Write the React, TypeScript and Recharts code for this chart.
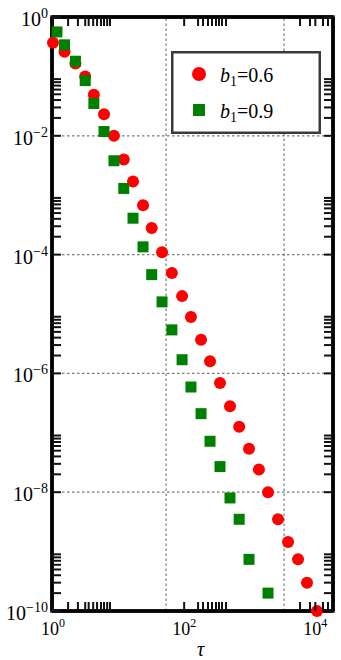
import React from 'react'
import { ScatterChart, Scatter, XAxis, YAxis, ReferenceLine, ReferenceArea, Legend } from 'recharts'

// tau values and probabilities
const TAU_06 = [1, 1.5, 2.2, 3.1, 4.2, 6, 8.5, 12, 16.6, 23.6, 32, 46, 65, 93, 127, 181, 248, 352, 500, 690, 975, 1380, 1900, 2700, 3840, 5450, 7470, 10600]
const P_06 = [0.37, 0.26, 0.165, 0.1, 0.049, 0.023, 0.01, 0.004, 0.0017, 6.8e-4, 2.8e-4, 1.1e-4, 4.9e-5, 2.0e-5, 8.9e-6, 3.7e-6, 1.6e-6, 6.9e-7, 2.8e-7, 1.26e-7, 5.4e-8, 2.4e-8, 1.0e-8, 3.5e-9, 1.45e-9, 7.4e-10, 3.0e-10, 1.0e-10]
const TAU_09 = [1.15, 1.5, 2.2, 3.1, 4.2, 6, 8.5, 12, 16.6, 23.6, 32, 46, 65, 93, 127, 181, 248, 352, 500, 690, 975, 1900]
const P_09 = [0.56, 0.34, 0.18, 0.085, 0.035, 0.0118, 0.0038, 0.0013, 4.1e-4, 1.35e-4, 4.6e-5, 1.6e-5, 5.4e-6, 1.7e-6, 5.9e-7, 2.1e-7, 7.2e-8, 2.7e-8, 8.0e-9, 3.5e-9, 7.4e-10, 2.0e-10]

const SERIES_NAMES = ['0.6', '0.9']

const X_MAJOR = [1, 100, 10000]
const X_MINOR = [1.7, 2.4, 3.1, 3.5, 4.1, 4.7, 5.4, 6, 6.7, 7.4, 163, 194, 231, 266, 306, 340, 378, 435, 5850, 8300, 13100, 15600]
const Y_MAJOR = [1, 1e-2, 1e-4, 1e-6, 1e-8, 1e-10]
const Y_MINOR_DECADES = [1e-2, 1e-4, 1e-6, 1e-8, 1e-10]
const MINOR_MULT = [2, 3, 4, 5, 6, 7, 8, 9]
const GRID_X = [53, 3340]
const GRID_Y = [1e-2, 1e-4, 1e-6, 1e-8]

const X_DOMAIN = [0.966, 18600]
const Y_DOMAIN = [1e-10, 1]

const RED = '#ff0000'
const GREEN = '#008000'
const SERIF = '"Liberation Serif", "Times New Roman", "DejaVu Serif", serif'

const redData = TAU_06.map((t, i) => ({ tau: t, p: P_06[i] }))
const greenData = TAU_09.map((t, i) => ({ tau: t, p: P_09[i] }))
const xTicks = [...X_MAJOR, ...X_MINOR].sort((a, b) => a - b)
const yTicks = [...Y_MAJOR, ...Y_MINOR_DECADES.flatMap(d => MINOR_MULT.map(k => k * d))].sort((a, b) => a - b)

const isMajor = (v: number) => X_MAJOR.includes(v) || Y_MAJOR.includes(v)
const expText = (v: number) => {
  const e = Math.round(Math.log10(v))
  return e < 0 ? `\u2212${-e}` : `${e}`
}

function BottomTick({ x, y, payload }: any) {
  const major = isMajor(payload.value)
  return (
    <g>
      <line x1={x} x2={x} y1={y} y2={y - 9} stroke="#111" strokeWidth={2} />
      {major && (
        <text x={x} y={y + 24} textAnchor="middle" style={{ fontFamily: SERIF }} fontSize={18} fill="black">
          <tspan>10</tspan>
          <tspan dy={-8} fontSize={12}>{expText(payload.value)}</tspan>
        </text>
      )}
    </g>
  )
}

function TopTick({ x, y }: any) {
  return <line x1={x} x2={x} y1={y} y2={y + 9} stroke="#111" strokeWidth={2} />
}

function LeftTick({ x, y, payload }: any) {
  const major = isMajor(payload.value)
  return (
    <g>
      <line x1={x} x2={x + 9} y1={y} y2={y} stroke="#111" strokeWidth={2} />
      {major && (
        <text x={x - 4} y={y + 9} textAnchor="end" style={{ fontFamily: SERIF }} fontSize={20} fill="black">
          <tspan>10</tspan>
          <tspan dy={-8} fontSize={14}>{expText(payload.value)}</tspan>
        </text>
      )}
    </g>
  )
}

function RightTick({ x, y }: any) {
  return <line x1={x} x2={x - 9} y1={y} y2={y} stroke="#111" strokeWidth={2} />
}

const renderCircle = (props: any) => <circle cx={props.cx} cy={props.cy} r={6} fill={RED} />
const renderSquare = (props: any) => <rect x={props.cx - 5.5} y={props.cy - 5.5} width={11} height={11} fill={GREEN} />
const renderNothing = () => <g />

function LegendBox({ payload }: any) {
  const items = (payload || []).filter((it: any) => SERIES_NAMES.includes(it.value))
  return (
    <svg width={150} height={83} style={{ display: 'block' }}>
      <rect x={1.25} y={1.25} width={147.5} height={80.5} fill="#fff" stroke="#3a3a3a" strokeWidth={2.5} />
      {items.map((it: any, i: number) => {
        const cy = 23 + i * 36
        return (
          <g key={it.value}>
            {i === 0
              ? <circle cx={28} cy={cy} r={7} fill={RED} />
              : <rect x={22} y={cy - 6} width={12} height={12} fill={GREEN} />}
            <text x={49} y={cy + 8} style={{ fontFamily: SERIF }} fontSize={20} fill="black">
              <tspan fontStyle="italic">b</tspan>
              <tspan fontSize={14} dy={4}>1</tspan>
              <tspan dy={-4}>={it.value}</tspan>
            </text>
          </g>
        )
      })}
    </svg>
  )
}

export default function App() {
  return (
    <div style={{ position: 'absolute', left: 0, top: 0, width: 341, height: 660, background: '#fff' }}>
      <ScatterChart width={341} height={660} margin={{ top: 16, right: 7, left: 0, bottom: 0 }}>
        <XAxis
          xAxisId="b" dataKey="tau" type="number" scale="log" domain={X_DOMAIN} ticks={xTicks} interval={0}
          orientation="bottom" height={49} tickSize={0} tickMargin={0} tickLine={false}
          axisLine={{ stroke: 'black', strokeWidth: 3.5 }}
          tick={(p: any) => <BottomTick {...p} />}
          label={{
            content: (p: any) => (
              <text x={p.viewBox.x + p.viewBox.width / 2 + 8} y={p.viewBox.y + p.viewBox.height - 4}
                textAnchor="middle" style={{ fontFamily: SERIF }} fontStyle="italic" fontSize={20} fill="black">τ</text>
            ),
          }}
        />
        <XAxis
          xAxisId="t" dataKey="tau" type="number" scale="log" domain={X_DOMAIN} allowDataOverflow ticks={xTicks} interval={0}
          orientation="top" height={1} tickSize={0} tickMargin={0} tickLine={false}
          axisLine={{ stroke: 'black', strokeWidth: 3.5 }}
          tick={(p: any) => <TopTick {...p} />}
        />
        <YAxis
          yAxisId="l" dataKey="p" type="number" scale="log" domain={Y_DOMAIN} ticks={yTicks} interval={0}
          orientation="left" width={52} tickSize={0} tickMargin={0} tickLine={false}
          axisLine={{ stroke: 'black', strokeWidth: 3.5 }}
          tick={(p: any) => <LeftTick {...p} />}
        />
        <YAxis
          yAxisId="r" dataKey="p" type="number" scale="log" domain={Y_DOMAIN} allowDataOverflow ticks={yTicks} interval={0}
          orientation="right" width={1} tickSize={0} tickMargin={0} tickLine={false}
          axisLine={{ stroke: 'black', strokeWidth: 3.5 }}
          tick={(p: any) => <RightTick {...p} />}
        />
        {GRID_Y.map(v => (
          <ReferenceLine key={'gy' + v} xAxisId="b" yAxisId="l" y={v} stroke="#7a7a7a" strokeWidth={1.2} strokeDasharray="2.5 2.5" />
        ))}
        {GRID_X.map(v => (
          <ReferenceLine key={'gx' + v} xAxisId="b" yAxisId="l" x={v} stroke="#7a7a7a" strokeWidth={1.2} strokeDasharray="2.5 2.5" />
        ))}
        {/* plot frame */}
        <ReferenceArea xAxisId="b" yAxisId="l" x1={X_DOMAIN[0]} x2={X_DOMAIN[1]} y1={Y_DOMAIN[0]} y2={Y_DOMAIN[1]}
          fill="none" fillOpacity={0} stroke="black" strokeWidth={3.5} strokeOpacity={0.9} ifOverflow="visible" />
        <Legend
          layout="vertical" align="center" verticalAlign="middle"
          wrapperStyle={{ left: 171, top: 51, width: 150, height: 83 }}
          content={(p: any) => <LegendBox {...p} />}
        />
        {/* invisible series bound to the mirrored top/right axes */}
        <Scatter xAxisId="t" yAxisId="r" name="frame" legendType="none" data={redData} shape={renderNothing} isAnimationActive={false} />
        <Scatter xAxisId="b" yAxisId="l" name={SERIES_NAMES[0]} data={redData} fill={RED} shape={renderCircle} isAnimationActive={false} />
        <Scatter xAxisId="b" yAxisId="l" name={SERIES_NAMES[1]} data={greenData} fill={GREEN} shape={renderSquare} isAnimationActive={false} />
      </ScatterChart>
    </div>
  )
}
